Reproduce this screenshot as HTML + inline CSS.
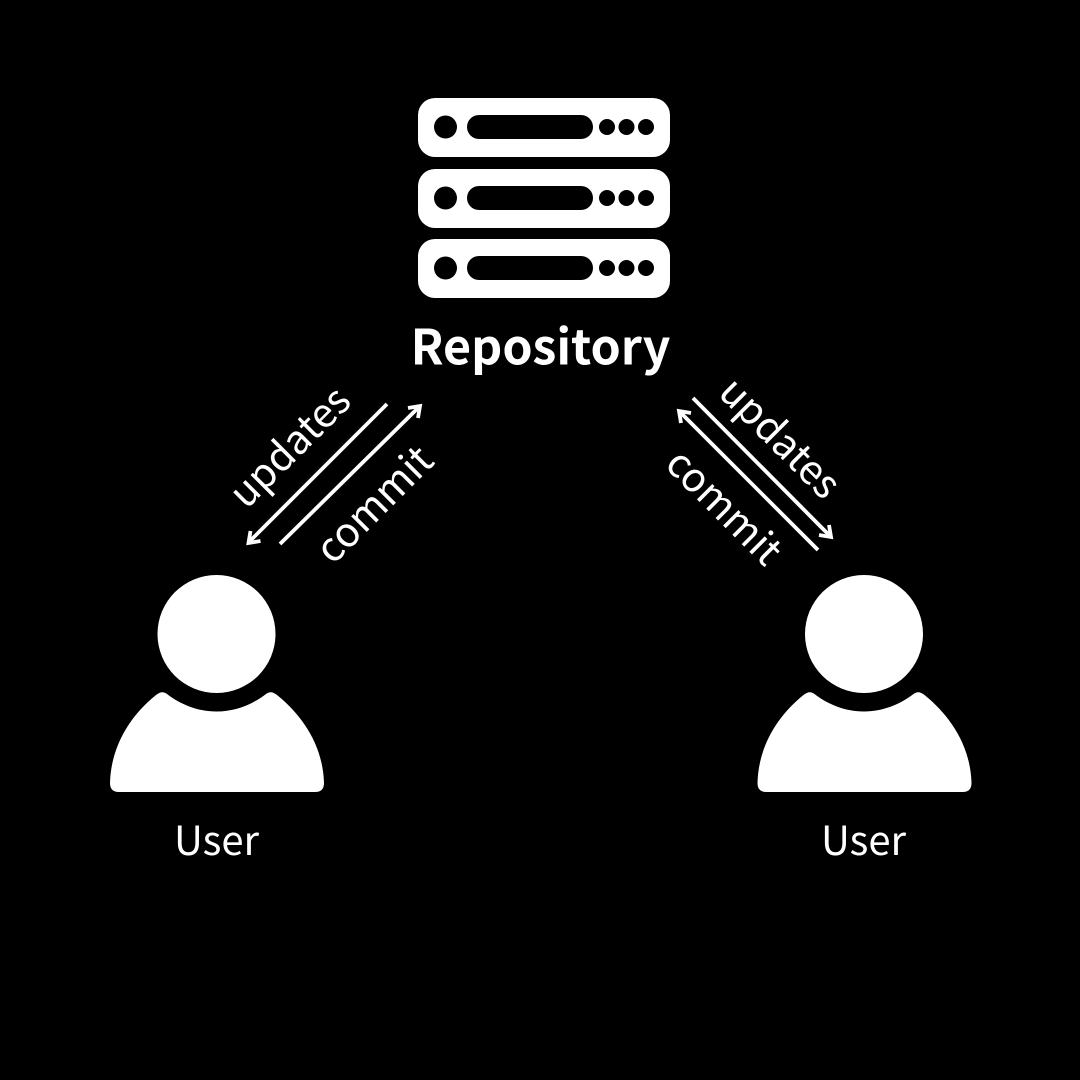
<!DOCTYPE html>
<html>
<head>
<meta charset="utf-8">
<style>
html,body{margin:0;padding:0;background:#000;width:1080px;height:1080px;overflow:hidden}
svg{display:block}
text{fill:#fff;font-family:"Noto Sans CJK JP","Noto Sans CJK SC","Liberation Sans",sans-serif}
</style>
</head>
<body>
<svg width="1080" height="1080" viewBox="0 0 1080 1080" xmlns="http://www.w3.org/2000/svg">
<rect width="1080" height="1080" fill="#000"/>
<defs>
<g id="srv">
<rect x="418" y="98" width="252" height="59" rx="17" fill="#fff"/>
<circle cx="445.5" cy="127" r="11.5" fill="#000"/>
<rect x="467" y="115" width="126" height="24" rx="12" fill="#000"/>
<circle cx="607" cy="127" r="8" fill="#000"/>
<circle cx="626.5" cy="127" r="8" fill="#000"/>
<circle cx="646" cy="127" r="8" fill="#000"/>
</g>
<g id="usr">
<circle cx="216.5" cy="634" r="59" fill="#fff"/>
<path fill="#fff" d="M110 783C111 746 130 716 156 695Q162 690 167 694C180 704 197 711.5 216.5 711.5C236 711.5 253 704 266 694Q271 690 277 695C303 716 323 746 324 783Q324 792 315 792H119Q110 792 110 783Z"/>
</g>
</defs>
<use href="#srv"/>
<use href="#srv" y="71"/>
<use href="#srv" y="141"/>
<text x="540.5" y="364.5" font-size="48.4" font-weight="700" text-anchor="middle">Repository</text>

<use href="#usr"/>
<use href="#usr" x="647.5"/>
<text x="216.5" y="855" font-size="40" font-weight="400" text-anchor="middle">User</text>
<text x="863.5" y="855" font-size="40" font-weight="400" text-anchor="middle">User</text>

<g fill="none" stroke="#fff" stroke-width="3.8">
<path d="M387 404L249 542"/>
<path d="M250.500 531L248.500 543L260.500 541"/>
<path d="M280 544L419 407"/>
<path d="M408 408L420 406L418 418"/>
<path d="M693 398L830 536"/>
<path d="M819 535L831 537L829 525"/>
<path d="M818 550L680 412"/>
<path d="M691 413L679 411L681 423"/>
</g>

<text transform="translate(292 449) rotate(-45)" font-size="40" text-anchor="middle" dominant-baseline="middle">updates</text>
<text transform="translate(376.500 506.500) rotate(-45)" font-size="40.500" text-anchor="middle" dominant-baseline="middle">commit</text>
<text transform="translate(778 440) rotate(45)" font-size="40" text-anchor="middle" dominant-baseline="middle">updates</text>
<text transform="translate(722 509) rotate(45)" font-size="40" text-anchor="middle" dominant-baseline="middle">commit</text>
</svg>
</body>
</html>
